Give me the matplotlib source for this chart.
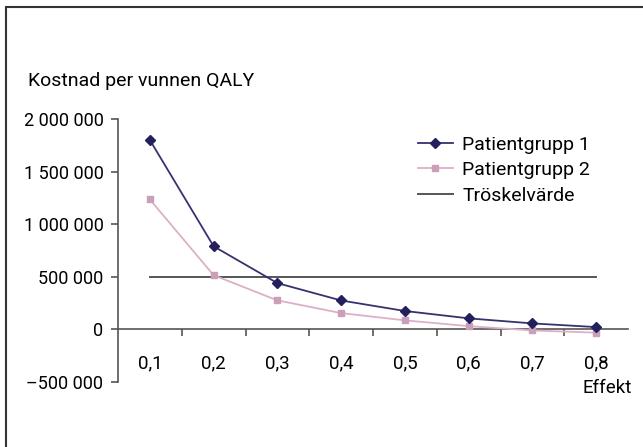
import matplotlib
matplotlib.use('Agg')
import matplotlib.pyplot as plt
from matplotlib.patches import Rectangle
from matplotlib.ticker import FixedLocator, FuncFormatter

plt.rcParams['font.family'] = ['Roboto', 'DejaVu Sans']

# data
effekt = ['0,1', '0,2', '0,3', '0,4', '0,5', '0,6', '0,7', '0,8']
grupp1 = [1800000, 790000, 440000, 275000, 175000, 105000, 57000, 22000]
grupp2 = [1235000, 515000, 276000, 155000, 86000, 31000, -10000, -31000]
troskel = [500000] * len(effekt)
yticks = [-500000, 0, 500000, 1000000, 1500000, 2000000]

W, H = 643, 447
fig = plt.figure(figsize=(W / 100, H / 100), dpi=100)
fig.patch.set_facecolor('white')

# frame (only left and top edges visible in the crop)
fig.patches.append(Rectangle((6 / W, -0.1), 1.2, 1 - 7 / H + 0.1,
                             transform=fig.transFigure, fill=False,
                             edgecolor='#333333', linewidth=1.5))

ax = fig.add_axes([118 / W, 1 - 382 / H, 510 / W, (382 - 119) / H])
x = list(range(len(effekt)))

ax.plot(x, troskel, color='#555555', linewidth=1.4, label='Tröskelvärde', zorder=2)
ax.plot(x, grupp2, color='#dcb0c8', linewidth=1.3, marker='s', markersize=5,
        markerfacecolor='#c9a0b8', markeredgecolor='#c9a0b8', label='Patientgrupp 2', zorder=3)
ax.plot(x, grupp1, color='#35326f', linewidth=1.3, marker='D', markersize=5.5,
        markerfacecolor='#24205e', markeredgecolor='#24205e', label='Patientgrupp 1', zorder=4)

ax.set_xlim(-0.5, len(effekt) - 0.5)
ax.set_ylim(-500000, 2000000)

for s in ['top', 'right']:
    ax.spines[s].set_visible(False)
ax.spines['bottom'].set_position(('data', 0))
ax.spines['left'].set_color('#555555')
ax.spines['bottom'].set_color('#555555')
ax.spines['left'].set_linewidth(1.2)
ax.spines['bottom'].set_linewidth(1.2)

ax.set_yticks(yticks)
ax.yaxis.set_major_formatter(FuncFormatter(
    lambda v, p: ('\u2013' if v < 0 else '') + f'{abs(int(v)):,}'.replace(',', ' ')))
ax.tick_params(axis='y', direction='out', length=5, width=1.2, color='#555555',
               labelsize=13, pad=5.5)

ax.set_xticks(x)
ax.set_xticklabels(effekt)
ax.tick_params(axis='x', which='major', length=0, labelsize=13.5, pad=18)
ax.xaxis.set_minor_locator(FixedLocator([i + 0.5 for i in x[:-1]]))
ax.tick_params(axis='x', which='minor', direction='out', length=5, width=1.2,
               color='#555555')

fig.text(28 / W, 1 - 81 / H, 'Kostnad per vunnen QALY', fontsize=14,
         ha='left', va='center')
fig.text(583 / W, 1 - 388 / H, 'Effekt', fontsize=13.5, ha='left', va='center')

h, l = ax.get_legend_handles_labels()
order = [2, 1, 0]
ax.legend([h[i] for i in order], [l[i] for i in order], loc='upper left',
          bbox_to_anchor=(410 / W, 1 - 128 / H), bbox_transform=fig.transFigure,
          frameon=False, fontsize=14, handlelength=1.8, handletextpad=0.5,
          labelspacing=0.38, borderaxespad=0)

fig.savefig('out.png', dpi=100)
